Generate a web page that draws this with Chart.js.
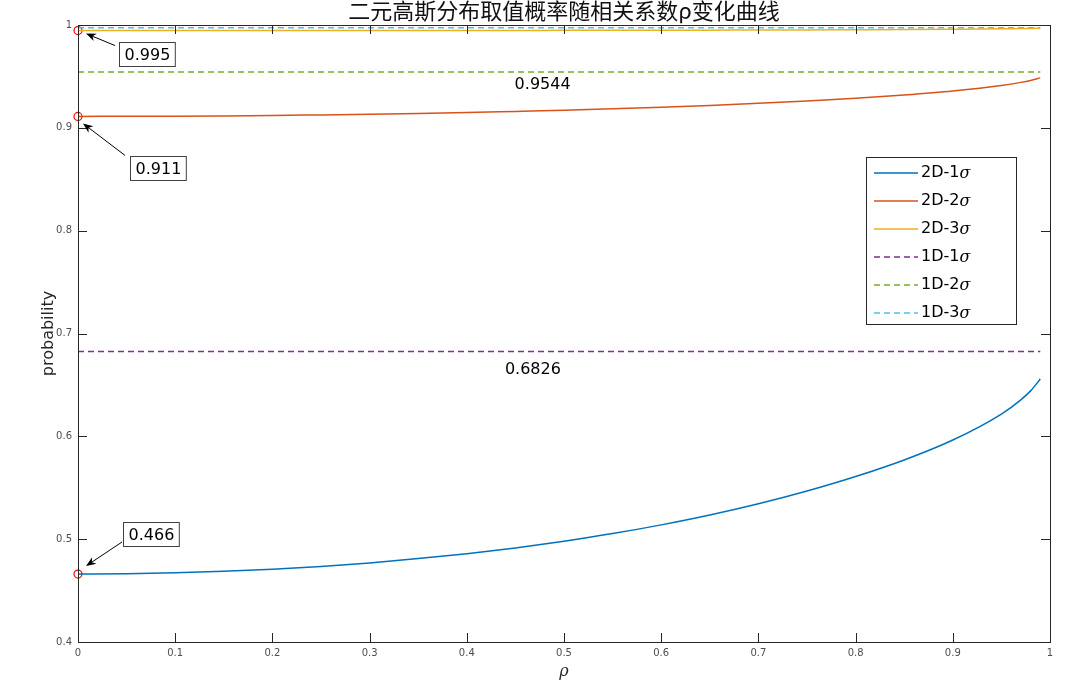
<!DOCTYPE html>
<html>
<head>
<meta charset="utf-8">
<script src="https://cdn.jsdelivr.net/npm/chart.js@4.4.0/dist/chart.umd.min.js"></script>
<style>
  html, body { margin: 0; padding: 0; background: #fff; }
</style>
</head>
<body>
<canvas id="c" width="1080" height="693"></canvas>
<script>
// correlation coefficient rho (x axis)
var rho = [0, 0.05, 0.1, 0.15, 0.2, 0.25, 0.3, 0.35, 0.4, 0.45, 0.5,
           0.55, 0.6, 0.65, 0.7, 0.75, 0.8, 0.85, 0.9, 0.95, 0.97, 0.98, 0.99];
// 2D probabilities
var p2d1 = [0.4661, 0.4664, 0.4673, 0.4687, 0.4708, 0.4735, 0.4769, 0.4811, 0.4859, 0.4915, 0.4980,
            0.5054, 0.5139, 0.5235, 0.5344, 0.5468, 0.5609, 0.5770, 0.5964, 0.6217, 0.6355, 0.6442, 0.6557];
var p2d2 = [0.9111, 0.9112, 0.9113, 0.9116, 0.9120, 0.9126, 0.9132, 0.9140, 0.9149, 0.9160, 0.9171,
            0.9185, 0.9200, 0.9218, 0.9238, 0.9261, 0.9288, 0.9320, 0.9359, 0.9412, 0.9442, 0.9461, 0.9486];
var p2d3 = [0.9946, 0.9946, 0.9946, 0.9946, 0.9946, 0.9946, 0.9947, 0.9947, 0.9947, 0.9947, 0.9948,
            0.9948, 0.9949, 0.9950, 0.9951, 0.9952, 0.9954, 0.9956, 0.9959, 0.9963, 0.9966, 0.9967, 0.9969];
// 1D reference levels
var p1d = [0.6826, 0.9544, 0.9974];
var seriesNames = ['2D-1', '2D-2', '2D-3', '1D-1', '1D-2', '1D-3'];
var xTicks = [0, 0.1, 0.2, 0.3, 0.4, 0.5, 0.6, 0.7, 0.8, 0.9, 1];
var yTicks = [0.4, 0.5, 0.6, 0.7, 0.8, 0.9, 1];
// annotated start values
var startLabels = ['0.466', '0.911', '0.995'];
var levelLabels = ['0.6826', '0.9544'];

var colors = ['#0072BD', '#D95319', '#EDB120', '#7E2F8E', '#77AC30', '#4DBEEE'];

function pts(ys) {
  return rho.map(function (r, i) { return { x: r, y: ys[i] }; });
}
function flat(v) {
  return [{ x: rho[0], y: v }, { x: rho[rho.length - 1], y: v }];
}

var datasets = [];
[p2d1, p2d2, p2d3].forEach(function (ys, i) {
  datasets.push({ label: seriesNames[i], data: pts(ys), borderColor: colors[i], borderWidth: 1.5,
    pointRadius: 0, cubicInterpolationMode: 'monotone', fill: false });
});
p1d.forEach(function (v, i) {
  datasets.push({ label: seriesNames[i + 3], data: flat(v), borderColor: colors[i + 3], borderWidth: 1.5,
    borderDash: [6, 4], pointRadius: 0, fill: false });
});
// red circles at rho = 0
datasets.push({
  label: 'start', type: 'scatter', isMarker: true, clip: false,
  data: [p2d1[0], p2d2[0], p2d3[0]].map(function (v) { return { x: 0, y: v }; }),
  pointStyle: 'circle', pointRadius: 4, borderColor: '#ff0000', borderWidth: 1.2,
  backgroundColor: 'rgba(0,0,0,0)', showLine: false
});

var BASE = '"DejaVu Sans", sans-serif';

var decor = {
  id: 'decor',
  afterDraw: function (chart) {
    var ctx = chart.ctx, a = chart.chartArea;
    var xs = chart.scales.x, ys = chart.scales.y;
    ctx.save();

    // title
    ctx.fillStyle = '#111';
    ctx.font = '22px "Noto Sans CJK SC", sans-serif';
    ctx.textAlign = 'center';
    ctx.textBaseline = 'middle';
    ctx.fillText('二元高斯分布取值概率随相关系数ρ变化曲线', (a.left + a.right) / 2, 11);

    // axes box + inward ticks
    ctx.strokeStyle = '#262626';
    ctx.lineWidth = 1;
    ctx.strokeRect(Math.round(a.left) + 0.5, Math.round(a.top) + 0.5,
      Math.round(a.right - a.left), Math.round(a.bottom - a.top));
    ctx.beginPath();
    xTicks.forEach(function (t) {
      var px = Math.round(xs.getPixelForValue(t)) + 0.5;
      ctx.moveTo(px, a.bottom); ctx.lineTo(px, a.bottom - 9);
      ctx.moveTo(px, a.top); ctx.lineTo(px, a.top + 9);
    });
    yTicks.forEach(function (t) {
      var py = Math.round(ys.getPixelForValue(t)) + 0.5;
      ctx.moveTo(a.left, py); ctx.lineTo(a.left + 9, py);
      ctx.moveTo(a.right, py); ctx.lineTo(a.right - 9, py);
    });
    ctx.stroke();

    // level labels under the 1D lines
    ctx.fillStyle = '#000';
    ctx.font = '16px ' + BASE;
    ctx.textAlign = 'center';
    ctx.textBaseline = 'middle';
    ctx.fillText(levelLabels[0], xs.getPixelForValue(0.468), ys.getPixelForValue(p1d[0]) + 18);
    ctx.fillText(levelLabels[1], xs.getPixelForValue(0.478), ys.getPixelForValue(p1d[1]) + 13);

    // annotation boxes with arrows
    var starts = [p2d1[0], p2d2[0], p2d3[0]];
    // box offsets (left, top relative to the point), arrow tail, arrow head
    var boxes = [
      { bx: 45, by: -52, tx: 44, ty: -32, hx: 8, hy: -8 },
      { bx: 52, by: 40, tx: 47, ty: 39, hx: 5, hy: 7 },
      { bx: 41, by: 11, tx: 37, ty: 15, hx: 8, hy: 3 }
    ];
    starts.forEach(function (v, i) {
      var px = xs.getPixelForValue(0), py = ys.getPixelForValue(v);
      var b = boxes[i];
      ctx.font = '16px ' + BASE;
      var w = ctx.measureText(startLabels[i]).width + 10, h = 24;
      var bl = Math.round(px + b.bx) + 0.5, bt = Math.round(py + b.by) + 0.5;
      ctx.fillStyle = '#fff';
      ctx.fillRect(bl, bt, w, h);
      ctx.strokeStyle = '#404040';
      ctx.lineWidth = 1;
      ctx.strokeRect(bl, bt, w, h);
      ctx.fillStyle = '#000';
      ctx.textAlign = 'center';
      ctx.textBaseline = 'middle';
      ctx.fillText(startLabels[i], bl + w / 2, bt + h / 2 + 1);
      // arrow
      var x0 = px + b.tx, y0 = py + b.ty, x1 = px + b.hx, y1 = py + b.hy;
      var ang = Math.atan2(y1 - y0, x1 - x0);
      ctx.strokeStyle = '#000';
      ctx.beginPath(); ctx.moveTo(x0, y0); ctx.lineTo(x1 - 6 * Math.cos(ang), y1 - 6 * Math.sin(ang)); ctx.stroke();
      ctx.fillStyle = '#000';
      ctx.beginPath();
      ctx.moveTo(x1, y1);
      ctx.lineTo(x1 - 10 * Math.cos(ang) + 4 * Math.sin(ang), y1 - 10 * Math.sin(ang) - 4 * Math.cos(ang));
      ctx.lineTo(x1 - 7 * Math.cos(ang), y1 - 7 * Math.sin(ang));
      ctx.lineTo(x1 - 10 * Math.cos(ang) - 4 * Math.sin(ang), y1 - 10 * Math.sin(ang) + 4 * Math.cos(ang));
      ctx.closePath();
      ctx.fill();
    });

    // legend
    var lx = 866, ly = 157, lw = 150, lh = 167;
    ctx.fillStyle = '#fff';
    ctx.fillRect(lx, ly, lw, lh);
    ctx.strokeStyle = '#262626';
    ctx.strokeRect(lx + 0.5, ly + 0.5, lw, lh);
    chart.data.datasets.forEach(function (ds, i) {
      if (ds.isMarker) return;
      var y = ly + 16 + i * 28;
      ctx.strokeStyle = ds.borderColor;
      ctx.lineWidth = 1.5;
      ctx.setLineDash(ds.borderDash || []);
      ctx.beginPath(); ctx.moveTo(lx + 8, y); ctx.lineTo(lx + 52, y); ctx.stroke();
      ctx.setLineDash([]);
      ctx.fillStyle = '#000';
      ctx.textAlign = 'left';
      ctx.textBaseline = 'middle';
      ctx.font = '16px ' + BASE;
      ctx.fillText(ds.label, lx + 55, y);
      var tw = ctx.measureText(ds.label).width;
      ctx.font = 'italic 16px "DejaVu Serif", serif';
      ctx.fillText('σ', lx + 55 + tw, y + 1);
    });
    ctx.restore();
  }
};

new Chart(document.getElementById('c'), {
  type: 'line',
  data: { datasets: datasets },
  options: {
    responsive: false,
    animation: false,
    layout: { padding: { left: 0, top: 25, right: 30, bottom: 0 } },
    plugins: { legend: { display: false }, title: { display: false }, tooltip: { enabled: false } },
    scales: {
      x: {
        type: 'linear', min: 0, max: 1,
        grid: { display: false, drawTicks: false }, border: { display: false },
        afterBuildTicks: function (s) { s.ticks = xTicks.map(function (v) { return { value: v }; }); },
        ticks: { color: '#4d4d4d', font: { family: BASE, size: 10 }, padding: 5, maxRotation: 0, autoSkip: false,
          callback: function (v) { return String(Number(v.toFixed(1))); } },
        title: { display: true, text: 'ρ', color: '#262626', font: { family: '"DejaVu Serif", serif', size: 16, style: 'italic' },
          padding: { top: 0, bottom: 12 } },
        afterFit: function (s) { s.height = 51; }
      },
      y: {
        type: 'linear', min: 0.4, max: 1,
        grid: { display: false, drawTicks: false }, border: { display: false },
        afterBuildTicks: function (s) { s.ticks = yTicks.map(function (v) { return { value: v }; }); },
        ticks: { color: '#4d4d4d', font: { family: BASE, size: 10 }, padding: 6,
          callback: function (v) { return String(Number(v.toFixed(1))); } },
        title: { display: true, text: 'probability', color: '#262626', font: { family: BASE, size: 16 },
          padding: { top: 39, bottom: 0 } },
        afterFit: function (s) { s.width = 78; }
      }
    }
  },
  plugins: [decor]
});
</script>
</body>
</html>
